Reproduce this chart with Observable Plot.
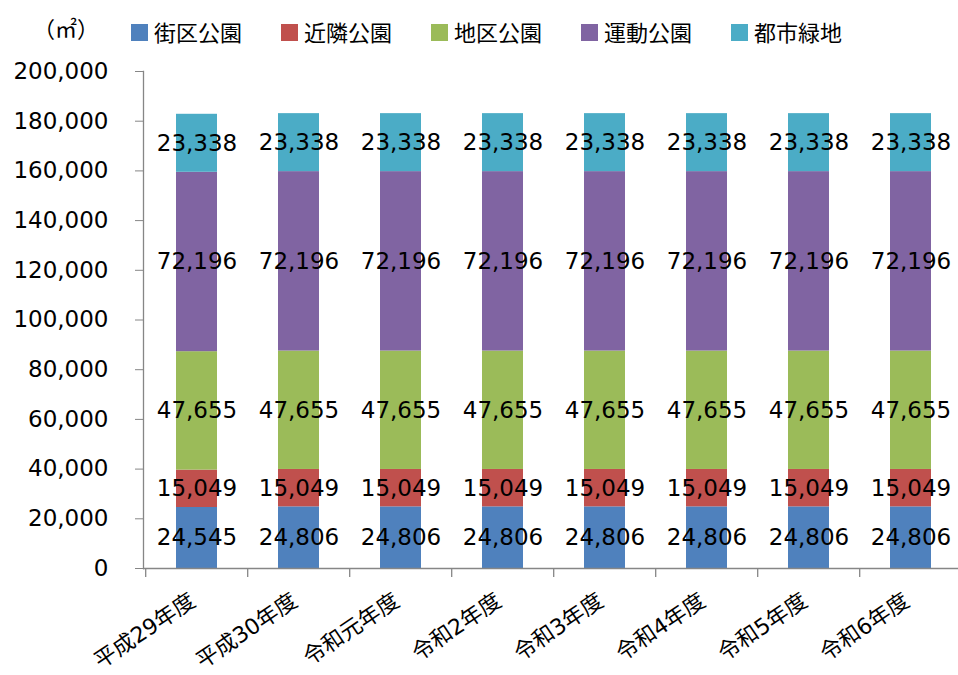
<!DOCTYPE html>
<html>
<head>
<meta charset="utf-8">
<script src="https://cdn.jsdelivr.net/npm/d3@7"></script>
<script src="https://cdn.jsdelivr.net/npm/@observablehq/plot@0.6"></script>
<style>
  html, body { margin: 0; padding: 0; background: #fff; }
  body { width: 958px; height: 675px; overflow: hidden; font-family: "DejaVu Sans", "Noto Sans CJK JP", sans-serif; }
  #header { position: relative; height: 50px; width: 958px; }
  #unit { position: absolute; left: 33px; top: 12px; font-size: 22px; font-family: "Noto Sans CJK JP", sans-serif; color: #000; line-height: 30px; }
  .item { position: absolute; top: 16px; display: flex; align-items: center; font-size: 22px; font-family: "Noto Sans CJK JP", sans-serif; color: #000; line-height: 30px; }
  .sw { width: 17px; height: 17px; margin-right: 6px; margin-top: 2px; }
</style>
</head>
<body>
<div id="header"><span id="unit">（㎡）</span></div>
<div id="chart"></div>
<script>
const categories = ["平成29年度", "平成30年度", "令和元年度", "令和2年度", "令和3年度", "令和4年度", "令和5年度", "令和6年度"];
const seriesNames = ["街区公園", "近隣公園", "地区公園", "運動公園", "都市緑地"];
const seriesColors = ["#4F81BD", "#C0504D", "#9BBB59", "#8064A2", "#4BACC6"];
const gaikuValues = [24545, 24806, 24806, 24806, 24806, 24806, 24806, 24806];
const kinrinValues = [15049, 15049, 15049, 15049, 15049, 15049, 15049, 15049];
const chikuValues = [47655, 47655, 47655, 47655, 47655, 47655, 47655, 47655];
const undoValues = [72196, 72196, 72196, 72196, 72196, 72196, 72196, 72196];
const ryokuchiValues = [23338, 23338, 23338, 23338, 23338, 23338, 23338, 23338];
const yTicks = [0, 20000, 40000, 60000, 80000, 100000, 120000, 140000, 160000, 180000, 200000];

const seriesValues = [gaikuValues, kinrinValues, chikuValues, undoValues, ryokuchiValues];
const rows = [];
seriesNames.forEach((s, si) => {
  categories.forEach((c, ci) => rows.push({cat: c, series: s, value: seriesValues[si][ci]}));
});

// legend
const header = document.getElementById("header");
seriesNames.forEach((s, i) => {
  const d = document.createElement("div");
  d.className = "item";
  d.style.left = (131 + 150 * i) + "px";
  d.innerHTML = `<span class="sw" style="background:${seriesColors[i]}"></span><span>${s}</span>`;
  header.appendChild(d);
});

const fmt = d3.format(",");
const FONT = `"DejaVu Sans", "Noto Sans CJK JP", sans-serif`;

const plot = Plot.plot({
  width: 958,
  height: 625,
  marginTop: 21,
  marginBottom: 107,
  marginLeft: 143,
  marginRight: 0,
  style: {fontFamily: FONT, fontSize: "23px", color: "#000", background: "#fff", overflow: "visible"},
  x: {domain: categories, range: [143.2, 964], paddingInner: 0.6, paddingOuter: 0.3, axis: null},
  y: {domain: [0, 200000], axis: null},
  color: {domain: seriesNames, range: seriesColors},
  marks: [
    Plot.barY(rows, Plot.stackY({x: "cat", y: "value", fill: "series", z: "series", order: seriesNames})),
    Plot.text(rows, Plot.stackY({x: "cat", y: "value", z: "series", order: seriesNames, text: d => fmt(d.value), fill: "#000", fontSize: 23})),
    Plot.frame({anchor: "left", stroke: "#868686", strokeWidth: 1.3}),
    Plot.ruleY([0], {stroke: "#868686", strokeWidth: 1.3}),
    Plot.ruleX(categories, {x: d => d, y1: 0, y2: 0, dx: -51.3, insetBottom: -9, stroke: "#868686", strokeWidth: 1.3}),
    Plot.axisY(yTicks, {tickSize: 8, tickPadding: 27, tickFormat: fmt, stroke: "#868686", color: "#000", fontSize: 23, label: null}),
    Plot.text(categories, {x: d => d, frameAnchor: "bottom", text: d => d, rotate: -34, textAnchor: "end", lineAnchor: "middle", dx: -4, dy: 30, fontSize: 22, fill: "#000", fontFamily: FONT})
  ]
});
document.getElementById("chart").appendChild(plot);
</script>
</body>
</html>
